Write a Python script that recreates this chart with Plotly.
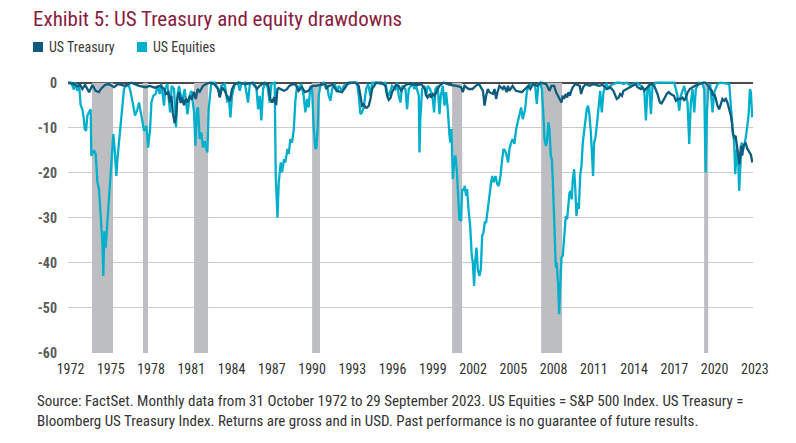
import numpy as np
import plotly.graph_objects as go

# ---------------- data (decimal year, drawdown %) ----------------
eq_t = [1972.00, 1972.25, 1972.45, 1972.55, 1972.71, 1972.85, 1972.96, 1973.09, 1973.20, 1973.27,
        1973.37, 1973.47, 1973.60, 1973.72, 1973.77, 1973.97, 1974.10, 1974.23, 1974.35, 1974.48,
        1974.61, 1974.68, 1974.76, 1974.86, 1974.94, 1975.11, 1975.24, 1975.44, 1975.54, 1975.67,
        1975.75, 1975.87, 1976.00, 1976.13, 1976.25, 1976.38, 1976.63, 1976.76, 1976.94, 1977.09,
        1977.27, 1977.39, 1977.57, 1977.77, 1977.95, 1978.08, 1978.23, 1978.33, 1978.48, 1978.66,
        1978.78, 1978.96, 1979.09, 1979.29, 1979.37, 1979.54, 1979.75, 1979.87, 1980.05, 1980.20,
        1980.30, 1980.43, 1980.66, 1980.86, 1981.06, 1981.24, 1981.36, 1981.57, 1981.67, 1981.80,
        1981.87, 1982.00, 1982.12, 1982.25, 1982.38, 1982.50, 1982.58, 1982.68, 1982.81, 1982.88,
        1983.14, 1983.39, 1983.52, 1983.64, 1983.90, 1984.10, 1984.20, 1984.33, 1984.45, 1984.66,
        1984.91, 1985.04, 1985.16, 1985.42, 1985.67, 1985.80, 1986.05, 1986.30, 1986.43, 1986.56,
        1986.68, 1986.81, 1986.93, 1987.14, 1987.31, 1987.44, 1987.69, 1987.77, 1987.90, 1988.00,
        1988.15, 1988.25, 1988.40, 1988.50, 1988.66, 1988.76, 1988.88, 1989.01, 1989.14, 1989.26,
        1989.39, 1989.51, 1989.72, 1989.89, 1990.02, 1990.15, 1990.27, 1990.40, 1990.53, 1990.65,
        1990.78, 1990.86, 1990.96, 1991.03, 1991.16, 1991.41, 1991.67, 1991.79, 1991.92, 1992.05,
        1992.25, 1992.43, 1992.55, 1992.81, 1992.93, 1993.18, 1993.60, 1993.94, 1994.07, 1994.20,
        1994.32, 1994.45, 1994.63, 1994.78, 1994.96, 1995.08, 1995.34, 1995.80, 1996.10, 1996.22,
        1996.35, 1996.60, 1996.86, 1996.98, 1997.11, 1997.24, 1997.36, 1997.62, 1997.74, 1997.87,
        1998.04, 1998.17, 1998.30, 1998.42, 1998.63, 1998.68, 1998.75, 1998.88, 1999.06, 1999.18,
        1999.31, 1999.49, 1999.69, 1999.79, 1999.89, 2000.07, 2000.20, 2000.30, 2000.45, 2000.58,
        2000.70, 2000.83, 2000.96, 2001.03, 2001.11, 2001.21, 2001.33, 2001.41, 2001.51, 2001.59,
        2001.71, 2001.84, 2001.92, 2002.02, 2002.12, 2002.22, 2002.30, 2002.40, 2002.53, 2002.65,
        2002.73, 2002.83, 2002.90, 2003.01, 2003.11, 2003.23, 2003.34, 2003.44, 2003.54, 2003.64,
        2003.74, 2003.87, 2003.99, 2004.12, 2004.20, 2004.32, 2004.45, 2004.58, 2004.70, 2004.83,
        2004.96, 2005.06, 2005.18, 2005.31, 2005.41, 2005.51, 2005.64, 2005.76, 2005.89, 2006.02,
        2006.14, 2006.27, 2006.40, 2006.52, 2006.70, 2006.83, 2006.95, 2007.21, 2007.46, 2007.59,
        2007.71, 2007.84, 2007.97, 2008.09, 2008.17, 2008.27, 2008.35, 2008.47, 2008.55, 2008.65,
        2008.73, 2008.80, 2008.88, 2008.95, 2009.03, 2009.10, 2009.21, 2009.28, 2009.36, 2009.46,
        2009.56, 2009.66, 2009.79, 2009.89, 2009.99, 2010.07, 2010.17, 2010.24, 2010.32, 2010.42,
        2010.50, 2010.60, 2010.70, 2010.78, 2010.88, 2010.98, 2011.08, 2011.18, 2011.28, 2011.38,
        2011.48, 2011.59, 2011.69, 2011.79, 2011.86, 2011.94, 2012.04, 2012.14, 2012.24, 2012.32,
        2012.40, 2012.52, 2012.65, 2012.78, 2012.90, 2013.03, 2013.16, 2013.41, 2013.66, 2013.92,
        2014.17, 2014.42, 2014.67, 2014.93, 2015.18, 2015.49, 2015.74, 2015.87, 2015.99, 2016.12,
        2016.25, 2016.37, 2016.63, 2017.30, 2018.02, 2018.14, 2018.27, 2018.40, 2018.52, 2018.78,
        2019.03, 2019.16, 2019.28, 2019.41, 2019.54, 2019.66, 2019.92, 2020.17, 2020.30, 2020.40,
        2020.50, 2020.60, 2020.75, 2020.93, 2021.06, 2021.31, 2021.56, 2022.20, 2022.32, 2022.45,
        2022.57, 2022.65, 2022.78, 2022.88, 2022.95, 2023.03, 2023.13, 2023.26, 2023.39, 2023.54,
        2023.66, 2023.77, 2023.84, 2023.94]
eq_v = [0, 0, -1.5, 0, -1.8, -0.5, -5.0, -5.9, -8.0, -10.3,
        -10.7, -7.3, -6.5, -5.9, -16.2, -15.0, -15.8, -22.0, -23.6, -29.5,
        -35.5, -42.9, -33.0, -36.6, -33.0, -24.4, -19.2, -11.4, -14.7, -20.7,
        -17.0, -13.3, -8.0, -3.6, -1.4, -0.7, -0.7, -2.1, -5.1, -7.3,
        -5.9, -4.4, -7.3, -10.7, -9.6, -14.4, -10.3, -4.4, -2.9, -2.5,
        -0.7, -2.5, -0.3, -5.1, -1.4, -0.3, -6.6, -0.7, -1.4, -9.9,
        -2.9, -0.7, -4.4, -1.4, -7.0, -2.9, -1.8, -6.6, -14.0, -5.9,
        -5.5, -12.5, -11.0, -14.4, -13.0, -15.1, -15.5, -5.9, -1.4, 0,
        0, -1.4, -2.9, -0.7, -0.3, -4.4, -2.9, -7.7, -2.9, -0.3,
        0, -1.8, -0.3, 0, -4.4, -0.3, 0, -1.0, -5.9, -2.9,
        -8.4, -1.4, -0.3, -0.7, -4.4, -0.3, 0, -20.7, -29.9, -22.1,
        -17.7, -19.9, -17.0, -17.7, -14.7, -15.8, -12.5, -13.3, -10.3, -4.0,
        -0.7, -1.4, -0.3, -2.9, -6.6, -3.6, -5.5, -0.7, -1.4, -10.0,
        -14.7, -14.4, -9.6, -2.9, -0.7, 0, -0.7, -2.9, -4.0, -1.4,
        -0.3, -2.1, -0.7, -1.8, -0.7, -0.3, 0, 0, -2.9, -7.0,
        -6.6, -5.5, -1.4, -0.3, -2.9, 0, 0, -0.3, 0, -2.1,
        -2.9, -0.7, -1.4, 0, -2.9, -4.4, -0.7, -1.4, -5.9, -1.4,
        -0.7, -0.3, -1.4, -0.7, -2.9, -15.5, -8.0, -1.4, -0.7, -2.9,
        -0.7, -1.4, -3.6, -6.6, -1.4, -0.7, -7.0, -2.9, -0.7, -5.1,
        -2.1, -5.9, -11.8, -13.3, -10.3, -21.4, -17.0, -16.2, -19.2, -23.3,
        -30.3, -30.7, -23.6, -24.0, -22.9, -25.1, -23.6, -28.0, -31.8, -38.4,
        -39.9, -45.1, -39.9, -36.6, -41.4, -42.9, -41.4, -34.0, -33.3, -31.0,
        -31.0, -28.0, -24.4, -22.1, -20.7, -22.1, -20.7, -22.5, -22.9, -20.7,
        -17.0, -14.7, -15.1, -16.2, -17.7, -14.7, -13.3, -12.5, -13.6, -10.3,
        -8.8, -7.3, -5.5, -8.1, -5.9, -2.1, -0.7, -0.3, -0.7, -4.7,
        -0.3, 0, -1.4, -7.3, -12.5, -14.0, -13.3, -8.8, -10.3, -16.2,
        -17.0, -21.4, -29.6, -37.0, -41.0, -39.9, -45.0, -51.4, -44.4, -38.8,
        -38.4, -34.0, -29.6, -30.3, -26.6, -24.4, -24.0, -25.9, -21.4, -19.2,
        -22.9, -29.6, -26.6, -28.0, -20.7, -18.4, -13.3, -11.0, -8.1, -5.9,
        -5.1, -7.3, -11.0, -16.2, -20.7, -13.3, -12.2, -9.6, -5.9, -2.9,
        -1.8, -6.6, -2.1, -0.7, -0.3, -1.4, -0.7, -0.3, 0, 0,
        -0.3, 0, -0.7, -0.3, 0, -0.7, -1.4, -8.4, -1.4, -0.3,
        -7.0, -0.7, 0, 0, 0, -1.4, -2.9, -6.2, -2.9, -0.7,
        -4.4, -13.6, -4.4, -1.4, -6.6, -1.4, 0, -0.3, -1.4, -19.9,
        -6.6, -1.4, -0.3, -6.6, -2.1, -0.3, 0, -0.3, -5.9, -10.3,
        -13.3, -20.3, -14.7, -17.7, -24.0, -17.7, -13.3, -14.7, -13.3, -10.3,
        -7.3, -1.4, -2.1, -7.7]

tr_t = [1972.00, 1972.40, 1972.75, 1972.90, 1973.09, 1973.30, 1973.60, 1973.85, 1974.10, 1974.35,
        1974.50, 1974.80, 1975.10, 1975.50, 1975.80, 1976.30, 1976.80, 1977.40, 1977.90, 1978.20,
        1978.60, 1979.00, 1979.30, 1979.45, 1979.62, 1979.75, 1979.85, 1979.95, 1980.10, 1980.20,
        1980.30, 1980.43, 1980.55, 1980.66, 1980.80, 1980.95, 1981.10, 1981.25, 1981.40, 1981.55,
        1981.70, 1981.85, 1982.00, 1982.25, 1982.50, 1982.75, 1983.10, 1983.40, 1983.52, 1983.70,
        1983.90, 1984.15, 1984.30, 1984.45, 1984.65, 1985.00, 1985.50, 1986.00, 1986.35, 1986.55,
        1986.90, 1987.20, 1987.35, 1987.50, 1987.65, 1987.80, 1987.90, 1988.00, 1988.40, 1988.60,
        1988.80, 1989.10, 1989.30, 1989.50, 1989.75, 1990.00, 1990.25, 1990.55, 1990.80, 1991.50,
        1991.60, 1991.80, 1992.10, 1992.40, 1992.80, 1992.95, 1993.30, 1993.80, 1994.07, 1994.20,
        1994.32, 1994.45, 1994.58, 1994.70, 1994.83, 1994.96, 1995.08, 1995.40, 1995.80, 1996.10,
        1996.22, 1996.35, 1996.48, 1996.60, 1996.90, 1997.10, 1997.30, 1997.55, 1997.80, 1998.00,
        1998.50, 1998.80, 1999.10, 1999.20, 1999.30, 1999.45, 1999.56, 1999.70, 1999.83, 2000.07,
        2000.20, 2000.50, 2001.00, 2001.50, 2001.84, 2001.97, 2002.10, 2002.40, 2002.70, 2002.95,
        2003.20, 2003.50, 2003.62, 2003.74, 2003.87, 2003.99, 2004.25, 2004.38, 2004.50, 2004.60,
        2004.75, 2005.00, 2005.10, 2005.30, 2005.40, 2005.50, 2005.75, 2006.00, 2006.30, 2006.45,
        2006.70, 2006.95, 2007.10, 2007.30, 2007.60, 2007.90, 2008.30, 2008.47, 2008.55, 2008.70,
        2008.90, 2009.05, 2009.21, 2009.36, 2009.46, 2009.56, 2009.66, 2009.79, 2009.89, 2009.99,
        2010.10, 2010.20, 2010.32, 2010.50, 2010.70, 2010.85, 2010.95, 2011.10, 2011.30, 2011.60,
        2011.90, 2012.30, 2012.60, 2012.90, 2013.16, 2013.40, 2013.50, 2013.66, 2013.80, 2013.92,
        2014.05, 2014.17, 2014.42, 2014.67, 2014.93, 2015.10, 2015.23, 2015.49, 2015.60, 2015.74,
        2015.99, 2016.25, 2016.50, 2016.75, 2016.93, 2017.05, 2017.18, 2017.30, 2017.45, 2017.60,
        2017.75, 2018.00, 2018.15, 2018.30, 2018.50, 2018.65, 2018.78, 2018.90, 2019.05, 2019.20,
        2019.40, 2019.60, 2019.90, 2020.20, 2020.40, 2020.50, 2020.60, 2020.75, 2020.88, 2020.95,
        2021.06, 2021.18, 2021.30, 2021.43, 2021.56, 2021.68, 2021.81, 2021.94, 2022.06, 2022.20,
        2022.32, 2022.40, 2022.48, 2022.57, 2022.68, 2022.78, 2022.88, 2022.98, 2023.08, 2023.18,
        2023.28, 2023.43, 2023.58, 2023.73, 2023.84, 2023.95]
tr_v = [0, -0.3, -0.8, -0.3, -1.4, -0.5, -2.1, -0.5, -1.8, -2.1,
        -1.4, -0.5, -0.3, -1.0, -0.3, -0.7, 0, -0.7, -1.0, -0.7,
        -1.1, -0.7, -1.4, -2.5, -2.1, -4.4, -2.9, -6.6, -9.0, -7.4,
        -3.6, -2.1, -4.5, -3.3, -5.0, -3.5, -4.4, -2.9, -3.8, -2.0,
        -3.6, -1.4, -2.0, -0.7, -0.3, 0, -0.3, -1.4, -3.3, -1.0,
        -1.8, -3.6, -4.0, -1.4, -0.3, 0, -0.3, 0, -1.4, -0.7,
        0, -0.5, -3.6, -4.4, -3.2, -5.0, -1.4, -1.2, -1.8, -1.5,
        -0.7, -0.3, -0.5, -1.8, -1.0, -2.1, -1.8, -0.7, -0.7, -0.3,
        -1.4, -0.7, -0.5, -1.8, -2.1, -1.4, 0, 0, -0.7, -2.9,
        -5.1, -4.8, -5.5, -5.5, -5.1, -3.6, -1.4, 0, 0, -0.7,
        -2.9, -3.8, -3.4, -2.1, -0.5, -0.7, -1.8, -0.7, -0.3, -0.3,
        -0.5, -0.3, -1.4, -2.9, -3.3, -2.5, -3.3, -2.5, -2.9, -1.4,
        -0.7, 0, -0.5, -0.7, -1.0, -2.1, -0.7, -1.4, -1.4, -0.7,
        -0.3, -1.8, -5.1, -2.9, -1.4, -2.1, -2.5, -1.4, -3.6, -2.1,
        -0.7, -1.4, -0.7, -2.1, -0.7, -1.8, -0.7, -1.8, -2.1, -2.1,
        -1.4, -0.7, -1.4, -0.3, -0.7, 0, -0.3, -1.4, -1.8, -0.7,
        -0.7, -2.1, -2.9, -3.6, -4.4, -2.9, -3.6, -2.5, -3.3, -2.1,
        -2.9, -1.8, -1.0, -0.3, -0.5, -0.7, -2.5, -1.0, -0.3, -0.7,
        -0.3, -0.7, -0.5, -1.4, -1.0, -1.8, -2.5, -3.6, -3.3, -2.5,
        -2.9, -1.8, -1.4, -1.0, -0.7, -0.3, -1.0, -1.4, -1.0, -1.8,
        -1.0, -0.3, -0.7, -2.5, -4.4, -4.6, -4.0, -3.3, -2.5, -2.1,
        -2.5, -2.9, -4.0, -3.6, -3.6, -3.3, -4.0, -3.3, -2.1, -1.4,
        -1.0, -0.7, -0.3, 0, 0, -0.3, -0.7, -1.4, -1.8, -2.9,
        -2.5, -3.6, -5.1, -5.9, -4.4, -3.6, -4.0, -3.6, -4.4, -5.9,
        -7.3, -8.8, -11.4, -12.1, -11.8, -14.0, -16.2, -18.1, -14.0, -16.2,
        -14.0, -13.3, -14.7, -15.5, -16.0, -17.7]

# shaded periods (start, end) in decimal years
shade_start = [1973.82, 1977.69, 1981.57, 1990.53, 2001.16, 2007.92, 2020.29]
shade_end = [1975.42, 1978.07, 1982.63, 1991.13, 2001.92, 2009.51, 2020.60]

tick_labels = ['1972', '1975', '1978', '1981', '1984', '1987', '1990', '1993', '1996',
               '1999', '2002', '2005', '2008', '2011', '2014', '2017', '2020', '2023']
y_ticks = [0, -10, -20, -30, -40, -50, -60]

series_names = ['US Treasury', 'US Equities']
series_colors = ['#0d5b7d', '#00afcb']

# ---------------- layout geometry ----------------
W, H = 796, 443
ML, MR, MT, MB = 68, 43, 80, 90
PW, PH = W - ML - MR, H - MT - MB
X0, X1 = 1972.0, 2024.0
Y0, Y1 = -60, 0.6
FONT = "Liberation Sans Narrow, Roboto Condensed, Arial Narrow, Roboto, sans-serif"


def px_x(px):
    return (px - ML) / PW


def px_y(py):
    return (H - MB - py) / PH


fig = go.Figure()

fig.add_trace(go.Scatter(x=eq_t, y=eq_v, mode='lines', name=series_names[1],
                         line=dict(color=series_colors[1], width=2.3), showlegend=False))
fig.add_trace(go.Scatter(x=tr_t, y=tr_v, mode='lines', name=series_names[0],
                         line=dict(color=series_colors[0], width=2.3), showlegend=False))

for s, e in zip(shade_start, shade_end):
    fig.add_shape(type='rect', xref='x', yref='y', x0=s, x1=e, y0=Y0, y1=0,
                  fillcolor='#bdbec2', line=dict(width=0), layer='between')

# manual legend
leg_items = [(33, 47), (137, 151)]
for (sx, tx), name, col in zip(leg_items, series_names, series_colors):
    fig.add_shape(type='rect', xref='paper', yref='paper',
                  x0=px_x(sx), x1=px_x(sx + 10), y0=px_y(52), y1=px_y(42),
                  fillcolor=col, line=dict(width=0))
    fig.add_annotation(x=px_x(tx), y=px_y(47), xref='paper', yref='paper', text=name,
                       showarrow=False, xanchor='left', yanchor='middle',
                       font=dict(family=FONT, size=14, color='#3a3a3a'))

fig.add_annotation(
    x=px_x(35), y=px_y(390), xref='paper', yref='paper', xanchor='left', yanchor='top',
    align='left', showarrow=False,
    text=("Source: FactSet. Monthly data from 31 October 1972 to 29 September 2023. US Equities = S&amp;P 500 Index. US Treasury =<br>"
          "Bloomberg US Treasury Index. Returns are gross and in USD. Past performance is no guarantee of future results."),
    font=dict(family=FONT, size=15, color='#333333'))

tickvals = np.linspace(1972.04, 2023.99, len(tick_labels))

fig.update_layout(
    width=W, height=H,
    margin=dict(l=ML, r=MR, t=MT, b=MB, pad=0),
    paper_bgcolor='white', plot_bgcolor='white',
    title=dict(text="Exhibit 5: US Treasury and equity drawdowns",
               x=33 / W, xanchor='left', y=1 - 19 / H, yanchor='middle',
               font=dict(family=FONT, size=21, color='#8a1c40')),
    xaxis=dict(range=[X0, X1], tickmode='array', tickvals=tickvals, ticktext=tick_labels,
               showgrid=False, zeroline=False, showline=False, ticks='',
               ticklabelshift=2, ticklabelstandoff=6,
               tickfont=dict(family=FONT, size=14, color='#333333')),
    yaxis=dict(range=[Y0, Y1], tickmode='array', tickvals=y_ticks,
               ticktext=[str(v) if v == 0 else '-' + str(-v) for v in y_ticks],
               showgrid=True, gridcolor='#cbcbcb', gridwidth=1,
               zeroline=True, zerolinecolor='#4a4a4a', zerolinewidth=2,
               showline=False, ticks='', ticklabelstandoff=10,
               tickfont=dict(family=FONT, size=14, color='#5a5a5a', weight='bold')),
)

fig.write_html("out.html")
